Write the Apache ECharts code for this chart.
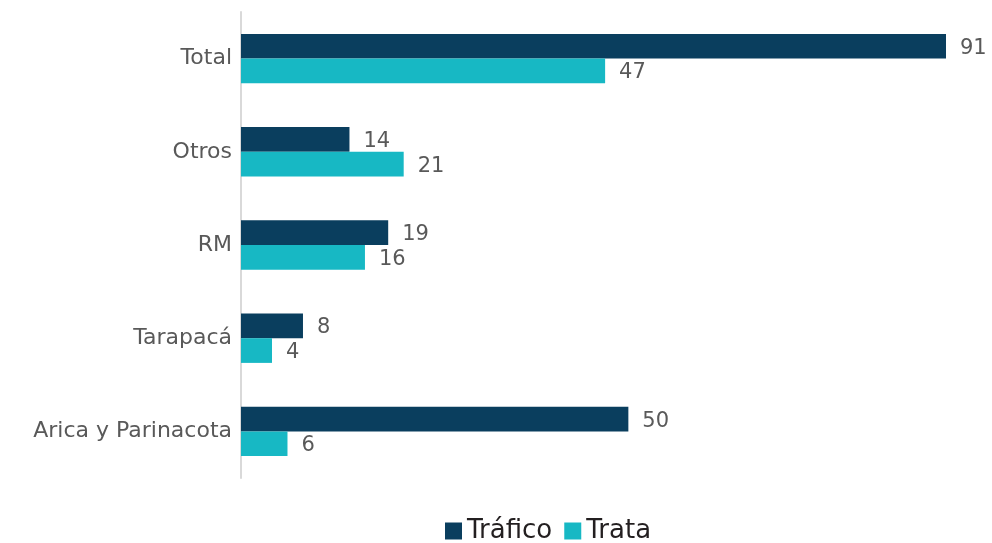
<!DOCTYPE html>
<html>
<head>
<meta charset="utf-8">
<script src="https://cdn.jsdelivr.net/npm/echarts@6/dist/echarts.min.js"></script>
<style>html,body{margin:0;padding:0;background:#fff}#c{width:992px;height:543px}</style>
</head>
<body>
<div id="c"></div>
<script>
var categories = ['Arica y Parinacota', 'Tarapacá', 'RM', 'Otros', 'Total'];
var trafico = [50, 8, 19, 14, 91];
var trata = [6, 4, 16, 21, 47];
var seriesNames = ['Tráfico', 'Trata'];

var font = '"DejaVu Sans", "Noto Sans", sans-serif';
var chart = echarts.init(document.getElementById('c'));
var labelStyle = {show: true, position: 'right', distance: 14, offset: [0, 2], color: '#595959', fontSize: 21, fontFamily: font};
chart.setOption({
  animation: false,
  grid: {left: 241, right: 46, top: 12, bottom: 65},
  legend: {
    bottom: -6, left: 440, itemWidth: 17, itemHeight: 17, itemGap: 12,
    icon: 'rect',
    textStyle: {fontSize: 26, color: '#231f20', fontFamily: font, padding: [0, 0, 0, 0]},
    data: seriesNames
  },
  xAxis: {type: 'value', min: 0, max: 91, show: false},
  yAxis: {
    type: 'category', data: categories,
    axisLine: {show: true, lineStyle: {color: '#d9d9d9', width: 2}},
    axisTick: {show: false},
    axisLabel: {color: '#595959', fontSize: 22, fontFamily: font, margin: 9}
  },
  series: [
    {name: seriesNames[0], type: 'bar', data: trafico, barGap: '0%', barCategoryGap: '47%',
     itemStyle: {color: '#0a3e5e'}, label: labelStyle},
    {name: seriesNames[1], type: 'bar', data: trata, barGap: '0%', barCategoryGap: '47%',
     itemStyle: {color: '#17b8c4'}, label: labelStyle}
  ]
});
</script>
</body>
</html>
